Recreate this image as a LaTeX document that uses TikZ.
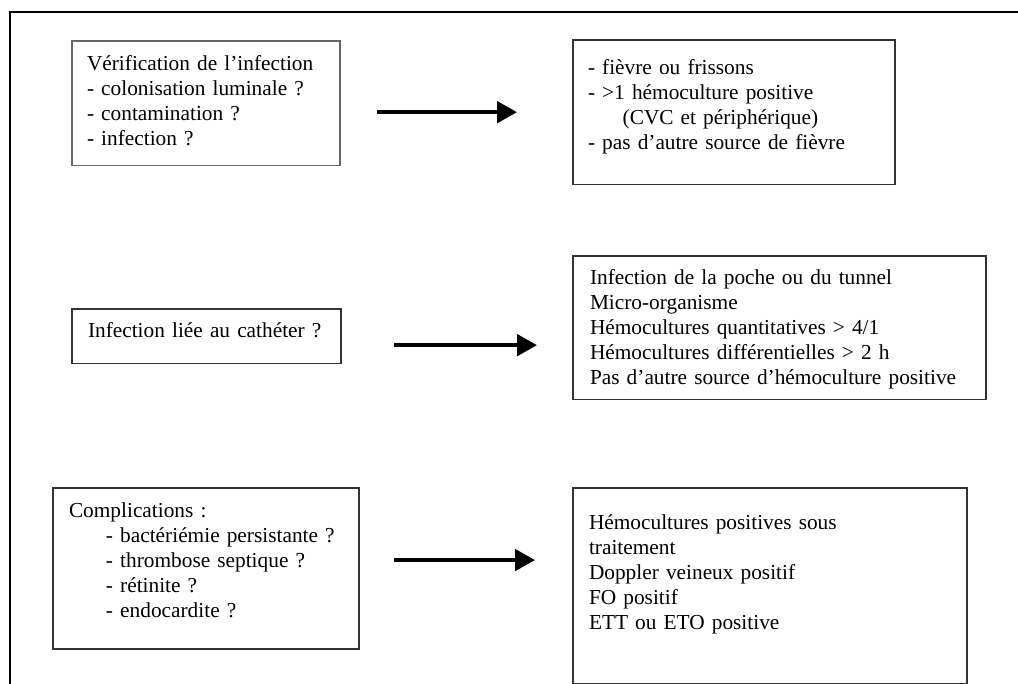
\documentclass[tikz,border=0pt]{standalone}
\usepackage{fontspec}
\setmainfont{Liberation Serif}
\usetikzlibrary{arrows.meta,calc}

\begin{document}
\begin{tikzpicture}[
  x=0.75pt,y=-0.75pt,
  case/.style={draw=black!80,line width=1pt,anchor=north west,align=left,outer sep=0pt,
    font=\fontsize{16pt}{18.75pt}\selectfont},
  arrow/.style={-{Triangle[length=15pt,width=16pt]},line width=3pt},
  frame/.style={line width=1.5pt}
]
\useasboundingbox (0,0) rectangle (1018,684);
\draw[frame] (10,684) -- (10,12) -- (1018,12);
% left column
\node[case,draw=black!60,inner xsep=11.25pt,inner ysep=10.5pt,text width=178.5pt,text depth=61pt] (verif) at (72,41)
  {Vérification de l'infection\\- colonisation luminale~?\\- contamination~?\\- infection~?};
\node[case,inner xsep=12pt,inner ysep=9.75pt,text width=177.75pt,text depth=10pt] (lien) at (72,309)
  {Infection liée au cathéter~?};
\node[case,inner xsep=12pt,inner ysep=11.25pt,text width=205.5pt,text depth=87.25pt] (complic) at (53,488)
  {Complications~:\\\hspace*{27.75pt}- bactériémie persistante~?\\\hspace*{27.75pt}- thrombose septique~?\\
   \hspace*{27.75pt}- rétinite~?\\\hspace*{27.75pt}- endocardite~?};
% right column
\node[case,inner xsep=11.25pt,inner ysep=14.25pt,text width=219pt,text depth=68.5pt] (criteres) at (573,40)
  {- fièvre ou frissons\\- >1 hémoculture positive\\\hspace*{26pt}(CVC et périphérique)\\- pas d'autre source de fièvre};
\node[case,inner xsep=12.75pt,inner ysep=9.75pt,text width=284.25pt,text depth=76.75pt] (diagnostic) at (573,256)
  {Infection de la poche ou du tunnel\\Micro-organisme\\Hémocultures quantitatives > 4/1\\
   Hémocultures différentielles > 2 h\\Pas d'autre source d'hémoculture positive};
\node[case,inner xsep=12pt,inner ysep=20.25pt,text width=271.5pt,text depth=94.75pt] (signes) at (573,488)
  {Hémocultures positives sous\\traitement\\Doppler veineux positif\\FO positif\\ETT ou ETO positive};
% arrows
\draw[arrow] ($(verif.east |- criteres.west)+(37,0)$) -- ($(criteres.west)+(-56,0)$);
\draw[arrow] ($(lien.east)+(53,9)$) -- ($(lien.east -| diagnostic.west)+(-36,9)$);
\draw[arrow] ($(complic.east)+(35,-8.5)$) -- ($(complic.east -| signes.west)+(-38,-8.5)$);
\end{tikzpicture}
\end{document}
